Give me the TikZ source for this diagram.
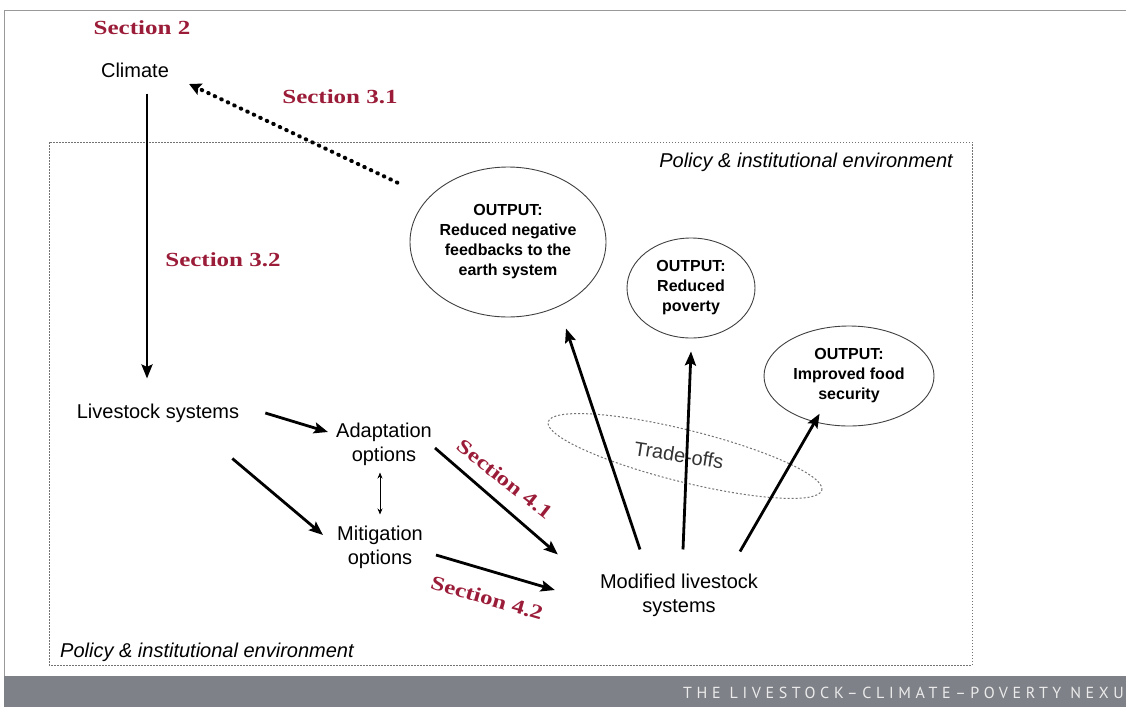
\documentclass[tikz,border=0pt]{standalone}
\usepackage{fontspec}
\usepackage{graphicx}
\setmainfont{Liberation Sans}
\newfontfamily\secfont{Liberation Serif}
\newfontfamily\bandfont[LetterSpace=29]{PT Sans}
\usetikzlibrary{arrows.meta,shapes.geometric}
\definecolor{secred}{RGB}{155,28,56}
\definecolor{bandgray}{RGB}{126,129,135}
\newcommand\seclabel[1]{\scalebox{1.25}[1]{\secfont\bfseries #1}}
\tikzset{
  lbl/.style={font=\fontsize{20}{24}\selectfont, align=center, inner sep=0pt},
  outell/.style={ellipse, draw=black!75, line width=0.9pt, align=center,
     font=\bfseries\fontsize{16}{20}\selectfont, inner sep=0pt},
  sec/.style={text=secred, inner sep=0pt, font=\fontsize{20}{24}\selectfont},
  arr/.style={line width=2.8pt, -{Stealth[length=14pt,width=11pt,inset=2.5pt]}},
  dotarr/.style={line width=4pt, line cap=round, dash pattern=on 0.6pt off 6.6pt,
     -{Stealth[length=12pt,width=12pt,inset=2pt]}},
  thinarr/.style={line width=0.8pt, {Stealth[length=6pt,width=5pt]}-{Stealth[length=6pt,width=5pt]}},
  policy/.style={font=\itshape\fontsize{20}{24}\selectfont, inner sep=0pt},
}
\begin{document}
\begin{tikzpicture}[x=1pt,y=-1pt]
\useasboundingbox (0,0) rectangle (1126,707);
% outer frame and band
\draw[line width=0.8pt, black!40] (4,676) -- (4,10) -- (1126,10);
\fill[bandgray] (4,676) rectangle (1126,707);
\node[anchor=west, text=black!8, inner sep=0pt, font=\bandfont\fontsize{16}{18}\selectfont] (band) at (683,693) {THE LIVESTOCK–CLIMATE–POVERTY NEXU};
% policy environment box
\draw[black!55, line width=0.9pt, dash pattern=on 1.5pt off 1.5pt] (49,142) rectangle (972,665);
\node[policy, anchor=east] (poltop) at (953,162) {Policy \& institutional environment};
\node[policy, anchor=west] (polbot) at (60,652) {Policy \& institutional environment};
% section labels
\node[sec] (s2) at (142,28) {\seclabel{Section 2}};
\node[sec] (s31) at (340,97) {\seclabel{Section 3.1}};
\node[sec] (s32) at (223,260) {\seclabel{Section 3.2}};
\node[sec, rotate=-38] (s41) at (505,479) {\seclabel{Section 4.1}};
\node[sec, rotate=-16] (s42) at (487,598) {\seclabel{Section 4.2}};
% main nodes
\node[lbl] (climate) at (135,70) {Climate};
\node[lbl] (ls) at (158,413) {Livestock systems};
\node[lbl] (ad) at (384,444) {Adaptation\\options};
\node[lbl] (mi) at (380,547) {Mitigation\\options};
\node[lbl] (mod) at (679,595) {Modified livestock\\systems};
% outputs
\node[outell, minimum width=196pt, minimum height=150pt] (o1) at (508,242) {OUTPUT:\\Reduced negative\\feedbacks to the\\earth system};
\node[outell, minimum width=128pt, minimum height=100pt] (o2) at (691,288) {OUTPUT:\\Reduced\\poverty};
\node[outell, minimum width=170pt, minimum height=100pt] (o3) at (849,376) {OUTPUT:\\Improved food\\security};
% trade-offs
\node[ellipse, draw=black!55, line width=1pt, dash pattern=on 2pt off 2pt, minimum width=282pt, minimum height=52pt, inner sep=0pt, rotate=-14] (tradeoffs) at (685,456) {};
\node[lbl, rotate=-9, text=black!80] (tradelbl) at (679,455) {Trade-offs};
% connectors
\draw[arr] ([xshift=12pt,yshift=-16pt]climate.south) -- ([xshift=-11pt,yshift=25pt]ls.north);
\draw[dotarr] ([xshift=-41pt,yshift=6pt]o1.north west) -- ([xshift=20pt,yshift=-14pt]climate.east);
\draw[arr] ([xshift=26pt]ls.east) -- ([xshift=-8pt,yshift=12pt]ad.west);
\draw[arr] ([xshift=-7pt,yshift=-36pt]ls.south east) -- ([xshift=-14pt,yshift=12pt]mi.west);
\draw[thinarr] ([xshift=-4pt,yshift=-7pt]ad.south) -- ([yshift=11pt]mi.north);
\draw[arr] ([xshift=3pt,yshift=-4pt]ad.east) -- ([xshift=-42pt,yshift=19pt]mod.north west);
\draw[arr] ([xshift=13pt,yshift=-8pt]mi.east) -- ([xshift=-45pt,yshift=5pt]mod.west);
\draw[arr] ([xshift=-39pt,yshift=24pt]mod.north) -- ([xshift=58pt,yshift=-11pt]o1.south);
\draw[arr] ([xshift=4pt,yshift=24pt]mod.north) -- ([yshift=-13pt]o2.south);
\draw[arr] ([xshift=61pt,yshift=22pt]mod.north) -- ([xshift=31pt,yshift=-2pt]o3.south west);
\end{tikzpicture}
\end{document}
